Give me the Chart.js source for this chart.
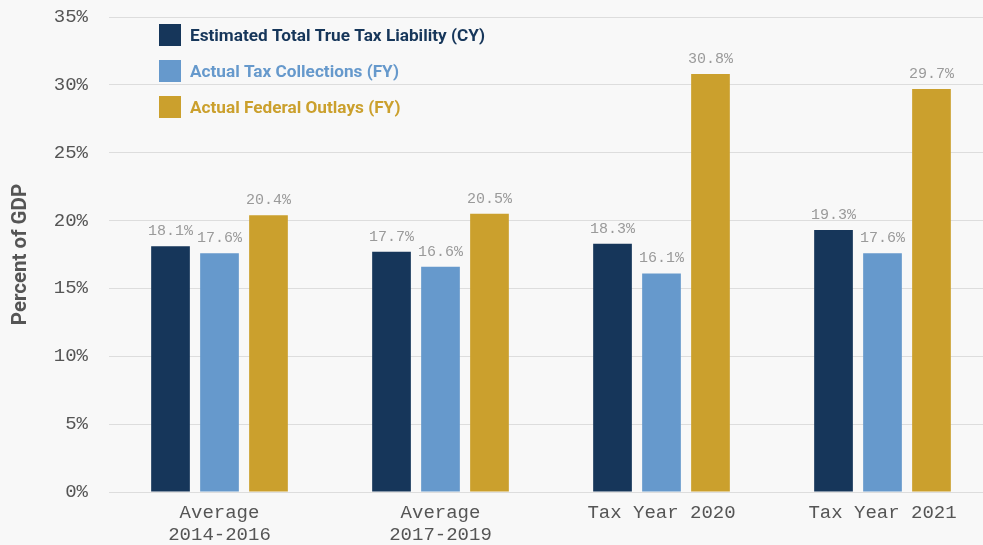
<!DOCTYPE html>
<html>
<head>
<meta charset="utf-8">
<script src="https://cdn.jsdelivr.net/npm/chart.js@4/dist/chart.umd.min.js"></script>
<style>
  html, body { margin: 0; padding: 0; background: #f8f8f8; overflow: hidden; }
  #wrap { width: 993px; height: 545px; }
</style>
</head>
<body>
<div id="wrap"><canvas id="bieuDo" width="993" height="545"></canvas></div>
<script>
// Dữ liệu
const nhomLabels = [['Average', '2014-2016'], ['Average', '2017-2019'], 'Tax Year 2020', 'Tax Year 2021'];
const tenSeries = ['Estimated Total True Tax Liability (CY)', 'Actual Tax Collections (FY)', 'Actual Federal Outlays (FY)'];
const nghiaVuThue = [18.1, 17.7, 18.3, 19.3];
const thuThue = [17.6, 16.6, 16.1, 17.6];
const chiTieu = [20.4, 20.5, 30.8, 29.7];
const mauSeries = ['#16365a', '#6699cc', '#cba02d'];

const fontMono = '"Liberation Mono", "DejaVu Sans Mono", monospace';
const fontSans = 'Roboto, "Noto Sans", sans-serif';

// Nhãn giá trị trên cột
const nhanGiaTri = {
    id: 'nhanGiaTri',
    afterDatasetsDraw(chart) {
        const ctx = chart.ctx;
        ctx.save();
        ctx.font = '15px ' + fontMono;
        ctx.fillStyle = '#9a9a9a';
        ctx.textAlign = 'center';
        ctx.textBaseline = 'middle';
        chart.data.datasets.forEach((ds, i) => {
            chart.getDatasetMeta(i).data.forEach((bar, j) => {
                ctx.fillText(ds.data[j].toFixed(1) + '%', bar.x, bar.y - 15);
            });
        });
        ctx.restore();
    }
};

// Chú giải bên trong vùng biểu đồ
const chuGiai = {
    id: 'chuGiai',
    afterDraw(chart) {
        const ctx = chart.ctx;
        ctx.save();
        ctx.font = 'bold 17.2px ' + fontSans;
        ctx.textBaseline = 'middle';
        tenSeries.forEach((ten, i) => {
            const y = 24 + i * 36;
            ctx.fillStyle = mauSeries[i];
            ctx.fillRect(159, y, 22, 22);
            ctx.fillText(ten, 190, y + 12.5);
        });
        ctx.restore();
    }
};

const ctx = document.getElementById('bieuDo').getContext('2d');
new Chart(ctx, {
    type: 'bar',
    data: {
        labels: nhomLabels,
        datasets: [
            { label: tenSeries[0], data: nghiaVuThue, backgroundColor: mauSeries[0] },
            { label: tenSeries[1], data: thuThue, backgroundColor: mauSeries[1] },
            { label: tenSeries[2], data: chiTieu, backgroundColor: mauSeries[2] }
        ]
    },
    options: {
        responsive: false,
        animation: false,
        layout: { padding: { top: 17, left: 0, right: 0, bottom: 0 } },
        datasets: {
            bar: { categoryPercentage: 0.665, barPercentage: 0.79 }
        },
        plugins: {
            legend: { display: false },
            tooltip: { enabled: false }
        },
        scales: {
            x: {
                grid: { display: false },
                border: { display: false },
                ticks: {
                    color: '#555',
                    font: { family: fontMono, size: 19, lineHeight: 1.15 },
                    padding: 2,
                    maxRotation: 0
                },
                afterFit(scale) { scale.height = 53; }
            },
            y: {
                min: 0,
                max: 35,
                grid: { color: '#dddddd', drawTicks: false },
                border: { display: false },
                ticks: {
                    stepSize: 5,
                    color: '#555',
                    font: { family: fontMono, size: 19 },
                    padding: 21,
                    callback: v => v + '%'
                },
                title: {
                    display: true,
                    text: 'Percent of GDP',
                    color: '#555',
                    font: { family: fontSans, size: 20.5, weight: 'bold' },
                    padding: { top: 9, bottom: 0 }
                },
                afterFit(scale) {
                    scale.width = 109;
                    scale.paddingTop = 0;
                    scale.paddingBottom = 0;
                }
            }
        }
    },
    plugins: [nhanGiaTri, chuGiai]
});
</script>
</body>
</html>
